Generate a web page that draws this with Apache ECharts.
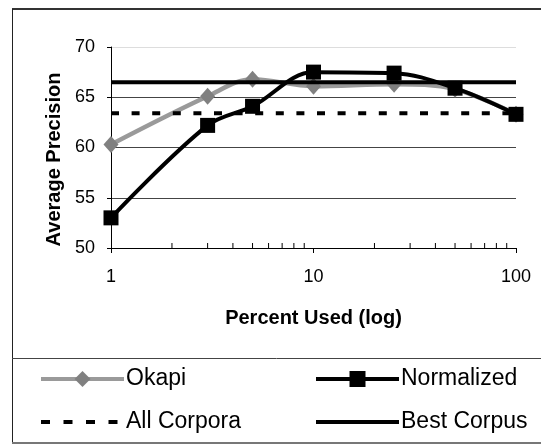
<!DOCTYPE html>
<html>
<head>
<meta charset="utf-8">
<script src="https://cdn.jsdelivr.net/npm/echarts@6/dist/echarts.min.js"></script>
<style>
  html, body { margin: 0; padding: 0; background: #fff; }
  #chart { width: 541px; height: 445px; }
</style>
</head>
<body>
<div id="chart"></div>
<script>
// data
const percentUsed = [1, 3, 5, 10, 25, 50, 100];
const okapi = [60.3, 65.1, 66.8, 66.1, 66.3, 65.8, 63.3];
const normalized = [53.0, 62.2, 64.1, 67.5, 67.4, 65.9, 63.3];
const allCorpora = 63.4;
const bestCorpus = 66.5;
const xRange = [1, 100];
const minorTickValues = [2, 3, 4, 5, 6, 7, 8, 9, 20, 30, 40, 50, 60, 70, 80, 90];
const yMin = 50, yMax = 70, yStep = 5;

const font = '"Liberation Sans", Arial, sans-serif';
const chart = echarts.init(document.getElementById('chart'));

function pairs(xs, ys) {
    return xs.map((x, i) => [x, ys[i]]);
}
function flat(v) {
    return [[xRange[0], v], [xRange[1], v]];
}

// legend look shared by both columns
function legendBox(names, left) {
    return {
        data: names,
        orient: 'vertical',
        left: left,
        top: 366,
        padding: 0,
        itemWidth: 83,
        itemHeight: 20,
        itemGap: 17,
        lineStyle: { width: 4 },
        textStyle: { fontFamily: font, fontSize: 23, lineHeight: 26, color: '#000', padding: [0, 0, 0, -3] }
    };
}

const option = {
    animation: false,
    grid: { left: 111, right: 25, top: 47, bottom: 197 },
    xAxis: {
        type: 'log',
        logBase: 10,
        min: xRange[0],
        max: xRange[1],
        name: 'Percent Used (log)',
        nameLocation: 'middle',
        nameGap: 60,
        nameTextStyle: { fontFamily: font, fontSize: 20, fontWeight: 'bold', color: '#000' },
        axisLine: { lineStyle: { color: '#000', width: 1 } },
        axisTick: { show: true, length: 5, lineStyle: { color: '#000' } },
        axisLabel: { fontFamily: font, fontSize: 18, color: '#000', margin: 20 },
        splitLine: { show: false }
    },
    yAxis: {
        type: 'value',
        min: yMin,
        max: yMax,
        interval: yStep,
        name: 'Average Precision',
        nameLocation: 'middle',
        nameGap: 47,
        nameTextStyle: {
            fontFamily: font, fontSize: 20, fontWeight: 'bold', color: '#000',
            padding: [0, 24, 0, 0]
        },
        axisLine: { show: true, lineStyle: { color: '#000', width: 1 } },
        axisTick: { show: true, length: 4, lineStyle: { color: '#000' } },
        axisLabel: { fontFamily: font, fontSize: 18, color: '#000', margin: 16 },
        splitLine: {
            show: true,
            lineStyle: { color: ['#444', '#444', '#444', '#444', '#ddd'], width: 1 }
        }
    },
    legend: [
        legendBox(['Okapi', {
            name: 'All Corpora',
            itemStyle: { opacity: 0 },
            lineStyle: { type: [9, 13.5] }
        }], 39),
        legendBox(['Normalized', { name: 'Best Corpus', itemStyle: { opacity: 0 } }], 314)
    ],
    graphic: [
        { type: 'line', shape: { x1: 12, y1: 9, x2: 541, y2: 9 }, style: { stroke: '#333', lineWidth: 2 } },
        { type: 'line', shape: { x1: 12.5, y1: 9, x2: 12.5, y2: 443 }, style: { stroke: '#222', lineWidth: 1 } },
        { type: 'line', shape: { x1: 12, y1: 358.5, x2: 541, y2: 358.5 }, style: { stroke: '#444', lineWidth: 1 } },
        { type: 'line', shape: { x1: 12, y1: 443, x2: 541, y2: 443 }, style: { stroke: '#777', lineWidth: 2 } }
    ],
    series: [
        {
            name: 'minor ticks',
            type: 'custom',
            silent: true,
            z: 1,
            data: minorTickValues.map(v => [v, yMin]),
            renderItem: function (params, api) {
                const p = api.coord([api.value(0), api.value(1)]);
                return {
                    type: 'line',
                    shape: { x1: p[0], y1: p[1], x2: p[0], y2: p[1] - 5 },
                    style: { stroke: '#000', lineWidth: 1 }
                };
            }
        },
        {
            name: 'Okapi',
            type: 'line',
            z: 2,
            smooth: 0.35,
            data: pairs(percentUsed, okapi),
            symbol: 'diamond',
            symbolSize: [15, 17],
            lineStyle: { color: '#9a9a9a', width: 4.5 },
            itemStyle: { color: '#808080' }
        },
        {
            name: 'All Corpora',
            type: 'line',
            z: 3,
            data: flat(allCorpora),
            symbol: 'none',
            lineStyle: { color: '#000', width: 4, type: [8, 12.6] },
            itemStyle: { color: '#000' }
        },
        {
            name: 'Best Corpus',
            type: 'line',
            z: 4,
            data: flat(bestCorpus),
            symbol: 'none',
            lineStyle: { color: '#000', width: 4 },
            itemStyle: { color: '#000' }
        },
        {
            name: 'Normalized',
            type: 'line',
            z: 5,
            smooth: 0.35,
            data: pairs(percentUsed, normalized),
            symbol: 'rect',
            symbolSize: 15,
            lineStyle: { color: '#000', width: 4 },
            itemStyle: { color: '#000' }
        }
    ]
};

chart.setOption(option);
window.addEventListener('resize', function () {
    chart.resize();
});
</script>
</body>
</html>
